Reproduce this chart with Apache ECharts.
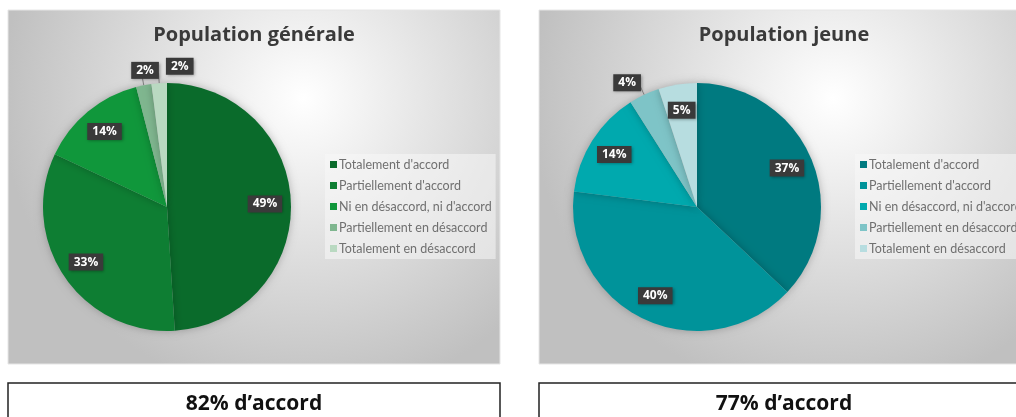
<!DOCTYPE html>
<html lang="fr">
  <head>
    <meta charset="UTF-8" />
    <title>Population générale / jeune</title>
    <script src="https://cdn.jsdelivr.net/npm/echarts@6/dist/echarts.min.js"></script>
    <style>
      body { margin: 0; background: #fff; }
    </style>
  </head>
  <body>
    <div id="main" style="width: 1016px; height: 417px"></div>
    <script type="text/javascript">
      // Response categories (same for both groups)
      const categories = [
        "Totalement d'accord",
        "Partiellement d'accord",
        "Ni en désaccord, ni d'accord",
        "Partiellement en désaccord",
        "Totalement en désaccord",
      ];
      // Shares in %
      const generalValues = [49, 33, 14, 2, 2];
      const youngValues = [37, 40, 14, 4, 5];
      const summaryTexts = ["82% d’accord", "77% d’accord"];
      const titles = ["Population générale", "Population jeune"];

      const greens = ["#0a6b2b", "#0e7e33", "#10973b", "#7fb68f", "#b9d9c1"];
      const teals = ["#007a80", "#00939a", "#00a9ae", "#7ec4c7", "#b7dde0"];

      let myChart = echarts.init(document.getElementById("main"));

      const R = 124;
      const labelBox = {
        color: "#fff",
        fontWeight: "bold",
        fontSize: 12,
        fontFamily: "Open Sans",
        backgroundColor: "#3a3a3a",
        padding: [3, 5, 2, 5],
        shadowColor: "rgba(0,0,0,0.35)",
        shadowBlur: 3,
        shadowOffsetX: 1,
        shadowOffsetY: 1,
      };

      // small nudges for the outside labels so they sit like the original
      const nudges = {
        general: { 3: { dx: 26, dy: -5 }, 4: { dx: 44, dy: -7 } },
        young: { 3: { dx: 10, dy: -3 } },
      };

      function pieSeries(values, colors, center, nudge) {
        const data = categories.map((name, i) => ({
          name: name,
          value: values[i],
          itemStyle: { color: colors[i] },
          label: { show: values[i] < 5 },
          labelLine: { show: values[i] < 5 },
        }));
        const labelData = categories.map((name, i) => ({
          name: name,
          value: values[i],
          label: { show: values[i] >= 5 },
        }));
        return [
          {
            type: "pie",
            center: center,
            radius: [0, R],
            startAngle: 90,
            data: data,
            silent: true,
            avoidLabelOverlap: false,
            itemStyle: {
              shadowColor: "rgba(0,0,0,0.25)",
              shadowBlur: 8,
            },
            label: Object.assign({ position: "outside", formatter: "{c}%" }, labelBox),
            labelLine: { length: 10, length2: 4, lineStyle: { color: "#8a8a8a", width: 1 } },
            labelLayout: (p) => nudge[p.dataIndex] || {},
          },
          {
            type: "pie",
            center: center,
            radius: [66, R],
            startAngle: 90,
            data: labelData,
            silent: true,
            itemStyle: { color: "rgba(0,0,0,0)" },
            label: Object.assign({ position: "inside", formatter: "{c}%" }, labelBox),
            labelLine: { show: false },
          },
        ];
      }

      function legend(left, colors) {
        return {
          orient: "vertical",
          left: left,
          top: 154,
          itemWidth: 7,
          itemHeight: 7,
          itemGap: 8,
          icon: "rect",
          selectedMode: false,
          backgroundColor: "rgba(248,248,248,0.55)",
          padding: [4, 4, 4, 5],
          textStyle: { color: "#707070", fontSize: 12.5, fontFamily: "Lato", padding: [0, 0, 0, -3] },
          data: categories.map((name, i) => ({ name: name, itemStyle: { color: colors[i] } })),
        };
      }

      function panel(x, w) {
        return {
          type: "rect",
          z: -10,
          shape: { x: x, y: 10, width: w, height: 354 },
          style: {
            fill: {
              type: "radial",
              x: 0.6,
              y: 0.25,
              r: 0.85,
              colorStops: [
                { offset: 0, color: "#ffffff" },
                { offset: 1, color: "#c0c0c0" },
              ],
            },
            stroke: "#e6e6e6",
          },
        };
      }

      function box(x, w, text) {
        return [
          {
            type: "rect",
            shape: { x: x, y: 383, width: w, height: 50 },
            style: { fill: "#fff", stroke: "#222", lineWidth: 1.5 },
          },
          {
            type: "text",
            x: x + w / 2,
            y: 404,
            style: {
              text: text,
              align: "center",
              verticalAlign: "middle",
              font: "bold 21px 'Open Sans'",
              fill: "#111",
            },
          },
        ];
      }

      function titleText(x, text) {
        return {
          type: "text",
          x: x,
          y: 35,
          style: {
            text: text,
            align: "center",
            verticalAlign: "middle",
            font: "bold 20px 'Open Sans'",
            fill: "#3a3a3a",
          },
        };
      }

      let options = {
        animation: false,
        graphic: [
          panel(8, 492),
          panel(539, 490),
          titleText(254, titles[0]),
          titleText(784, titles[1]),
        ]
          .concat(box(8, 492, summaryTexts[0]))
          .concat(box(539, 490, summaryTexts[1])),
        legend: [legend(325, greens), legend(855, teals)],
        series: pieSeries(generalValues, greens, [167, 207], nudges.general).concat(
          pieSeries(youngValues, teals, [697, 207], nudges.young)
        ),
      };

      myChart.setOption(options);
    </script>
  </body>
</html>
